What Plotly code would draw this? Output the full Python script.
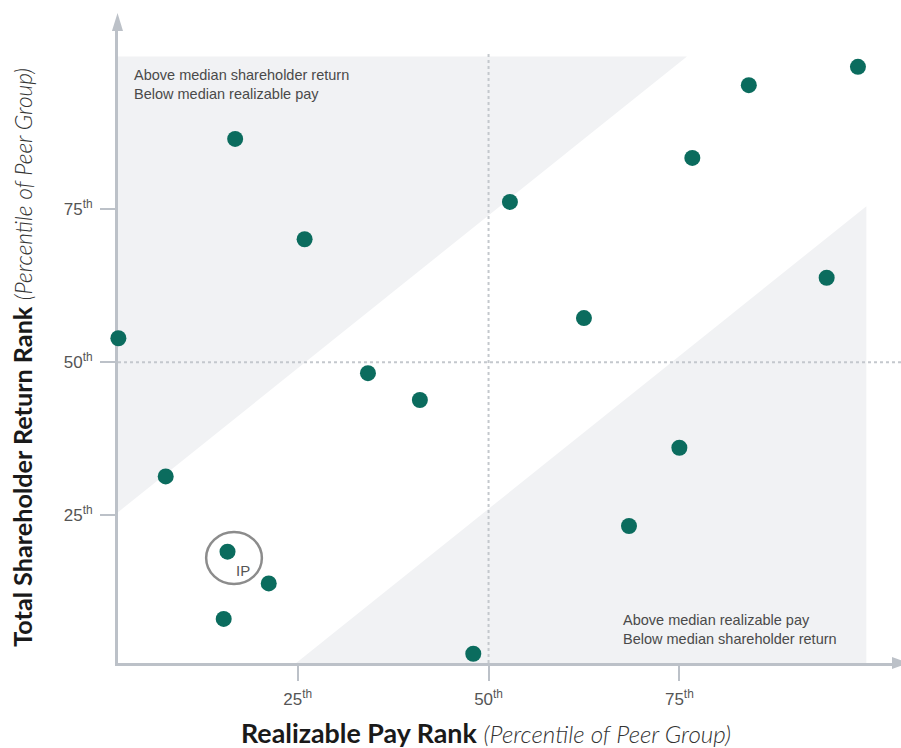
import plotly.graph_objects as go

# Peer companies: realizable pay percentile vs. total shareholder return percentile
pay_rank = [1.5, 7.7, 16.8, 25.9, 15.8, 21.2, 15.3, 34.2, 41.0, 48.0,
            52.8, 62.5, 68.4, 75.0, 76.7, 84.1, 94.3, 98.4]
tsr_rank = [53.9, 31.3, 86.5, 70.1, 19.0, 13.8, 8.0, 48.2, 43.8, 2.3,
            76.2, 57.2, 23.2, 36.0, 83.4, 95.3, 63.8, 98.3]

# Highlighted company
focus_label = "IP"
focus_pay = 15.8
focus_tsr = 19.0

tick_vals = [25, 50, 75]
tick_text = ["25<sup>th</sup>", "50<sup>th</sup>", "75<sup>th</sup>"]

median = 50
band_offset = 24          # alignment band half-width (percentile points)
band_top = 100

quadrant_upper = "Above median shareholder return<br>Below median realizable pay"
quadrant_lower = "Above median realizable pay<br>Below median shareholder return"

x_title_main = "Realizable Pay Rank"
y_title_main = "Total Shareholder Return Rank"
title_note = "(Percentile of Peer Group)"

x_range = [1.45, 104.04]
y_range = [0.79, 105.63]

TEAL = "#0b6c5e"
AXIS = "#bcc1c8"
SHADE = "#f1f2f4"
DOTTED = "#c4c8cd"
LABEL_FONT = "Liberation Sans, Arial, sans-serif"
TITLE_FAMILY = "Lato, Open Sans, sans-serif"

fig = go.Figure()

fig.add_trace(go.Scatter(
    x=pay_rank, y=tsr_rank, mode="markers",
    marker=dict(size=16, color=TEAL, line=dict(width=0)),
    cliponaxis=False, hoverinfo="x+y", showlegend=False,
))

x0, x1 = x_range
y0 = y_range[0]
shapes = [
    # shaded zone: return well ahead of pay
    dict(type="path", xref="x", yref="y", layer="below",
         path=f"M {x0},{x0 + band_offset} L {x0},{band_top} "
              f"L {band_top - band_offset},{band_top} Z",
         fillcolor=SHADE, line=dict(width=0)),
    # shaded zone: pay well ahead of return
    dict(type="path", xref="x", yref="y", layer="below",
         path=f"M {y0 + band_offset},{y0} L {99.5},{99.5 - band_offset} "
              f"L {99.5},{y0} Z",
         fillcolor=SHADE, line=dict(width=0)),
    # median guides
    dict(type="line", xref="x", yref="y", layer="below",
         x0=median, x1=median, y0=y0, y1=band_top + 0.5,
         line=dict(color=DOTTED, width=2, dash="dot")),
    dict(type="line", xref="x", yref="y", layer="below",
         x0=x0, x1=x1, y0=median, y1=median,
         line=dict(color=DOTTED, width=2, dash="dot")),
    # ring around the highlighted company
    dict(type="circle", xref="x", yref="y",
         x0=focus_pay - 2.8, x1=focus_pay + 4.5,
         y0=focus_tsr - 5.3, y1=focus_tsr + 3.2,
         line=dict(color="#8c8c8c", width=2.5)),
    # arrowheads on the axes
    dict(type="path", xref="paper", yref="paper",
         path="M -0.0077,0.986 L 0.0064,0.986 L -0.0006,1.014 Z",
         fillcolor=AXIS, line=dict(width=0)),
    dict(type="path", xref="paper", yref="paper",
         path="M 0.9885,0.0094 L 0.9885,-0.0094 L 1.0102,0 Z",
         fillcolor=AXIS, line=dict(width=0)),
]


def axis_title(main, size, note_size):
    note = (f"<span style='font-size:{note_size}px;font-weight:300;color:#333333'>"
            f"<i>{title_note}</i></span>")
    return "<b>" + main + "</b> " + note


annotations = [
    dict(x=focus_pay + 2.0, y=focus_tsr - 3.0, xref="x", yref="y",
         text=focus_label, showarrow=False,
         font=dict(family=LABEL_FONT, size=15, color="#555555")),
    dict(x=3.25, y=98.6, xref="x", yref="y", text=quadrant_upper,
         showarrow=False, xanchor="left", yanchor="top", align="left",
         font=dict(family=LABEL_FONT, size=14.5, color="#4a4a4a")),
    dict(x=67.3, y=9.4, xref="x", yref="y", text=quadrant_lower,
         showarrow=False, xanchor="left", yanchor="top", align="left",
         font=dict(family=LABEL_FONT, size=14.5, color="#4a4a4a")),
    # axis titles
    dict(x=0.47, y=-0.109, xref="paper", yref="paper",
         text=axis_title(x_title_main, 26.8, 24.2),
         showarrow=False, xanchor="center", yanchor="middle",
         font=dict(family=TITLE_FAMILY, size=26.8, color="#1a1a1a")),
    dict(x=-0.122, y=0.477, xref="paper", yref="paper", textangle=-90,
         text=axis_title(y_title_main, 25.2, 22.7),
         showarrow=False, xanchor="center", yanchor="middle",
         font=dict(family=TITLE_FAMILY, size=25.2, color="#1a1a1a")),
]

axis_common = dict(
    showgrid=False, zeroline=False, showline=True, linecolor=AXIS, linewidth=3,
    ticks="outside", ticklen=15, tickwidth=2, tickcolor=AXIS,
    tickmode="array", tickvals=tick_vals, ticktext=tick_text,
    tickfont=dict(family=LABEL_FONT, size=17, color="#555555"),
    ticklabelstandoff=4,
    layer="below traces", automargin=False, fixedrange=True,
)

fig.update_layout(
    width=901, height=748,
    margin=dict(l=118, r=0, t=22, b=85),
    paper_bgcolor="white", plot_bgcolor="white",
    shapes=shapes, annotations=annotations,
    xaxis=dict(range=x_range, **axis_common),
    yaxis=dict(range=y_range, **axis_common),
)

fig.write_html("out.html")
